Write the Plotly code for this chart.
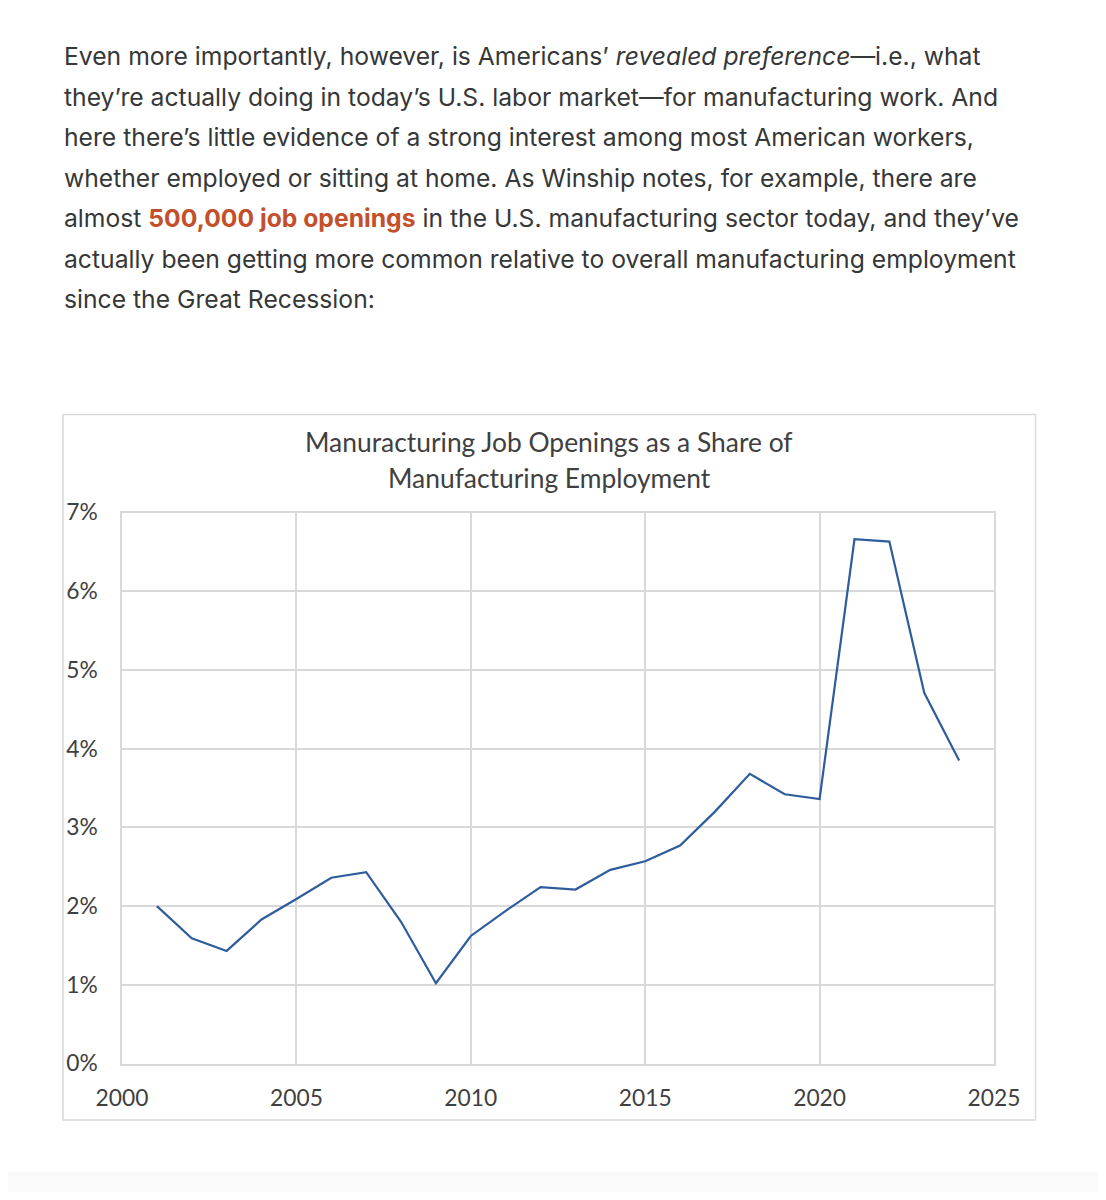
import plotly.graph_objects as go

# ---- data ----
years = [2001, 2002, 2003, 2004, 2005, 2006, 2007, 2008, 2009, 2010, 2011, 2012,
         2013, 2014, 2015, 2016, 2017, 2018, 2019, 2020, 2021, 2022, 2023, 2024]
share_pct = [2.00, 1.59, 1.43, 1.83, 2.09, 2.36, 2.43, 1.80, 1.02, 1.62, 1.94, 2.24,
             2.21, 2.46, 2.57, 2.77, 3.20, 3.68, 3.42, 3.36, 6.66, 6.63, 4.71, 3.85]
share = [v / 100 for v in share_pct]

x_ticks = [2000, 2005, 2010, 2015, 2020, 2025]
y_ticks = [0, 0.01, 0.02, 0.03, 0.04, 0.05, 0.06, 0.07]
y_tick_labels = ["0%", "1%", "2%", "3%", "4%", "5%", "6%", "7%"]

title_lines = ["Manuracturing Job Openings as a Share of", "Manufacturing Employment"]

ORANGE = "#c4502b"
paragraph_lines = [
    "Even more importantly, however, is Americans’ <i>revealed preference</i>—i.e., what",
    "they’re actually doing in today’s U.S. labor market—for manufacturing work. And",
    "here there’s little evidence of a strong interest among most American workers,",
    "whether employed or sitting at home. As Winship notes, for example, there are",
    "almost <b><span style='color:" + ORANGE + "'>500,000 job openings</span></b> in the U.S. manufacturing sector today, and they’ve",
    "actually been getting more common relative to overall manufacturing employment",
    "since the Great Recession:",
]

# page has an 8px body margin; figure fills the rest of the 1106x1200 window
OFF = 8
W, H = 1106 - 2 * OFF, 1200 - 2 * OFF
GRID = "#d9d9d9"
TICK = "#404040"

def px(x):
    return (x - OFF) / W

def py(y):
    return 1 - (y - OFF) / H

fig = go.Figure()
fig.add_trace(go.Scatter(
    x=years, y=share, mode="lines",
    line=dict(color="#2f5d9c", width=2.2),
    hoverinfo="skip", showlegend=False,
))

fig.update_layout(
    template="none",
    width=W, height=H,
    margin=dict(l=0, r=0, t=0, b=0, pad=0),
    paper_bgcolor="white", plot_bgcolor="white",
    font=dict(family="Lato, sans-serif", color=TICK),
    xaxis=dict(
        domain=[px(122), px(994)], range=[2000, 2025],
        tickvals=x_ticks, ticktext=[str(v) for v in x_ticks],
        showgrid=True, gridcolor=GRID, gridwidth=1.5,
        showline=True, linecolor=GRID, linewidth=1.5, mirror=True,
        zeroline=False, ticks="", ticklabelstandoff=13, automargin=False,
        tickfont=dict(family="Lato, sans-serif", size=22.8, color=TICK),
        fixedrange=True,
    ),
    yaxis=dict(
        domain=[py(1063.5), py(512.5)], range=[0, 0.07],
        tickvals=y_ticks, ticktext=y_tick_labels,
        showgrid=True, gridcolor=GRID, gridwidth=1.5,
        showline=True, linecolor=GRID, linewidth=1.5, mirror=True,
        zeroline=False, ticks="", ticklabelstandoff=18, automargin=False,
        tickfont=dict(family="Lato, sans-serif", size=22.8, color=TICK),
        fixedrange=True,
    ),
)

# chart frame
fig.add_shape(type="rect", xref="paper", yref="paper",
              x0=px(63), x1=px(1035.5), y0=py(1120), y1=py(414.5),
              line=dict(color=GRID, width=1.5), fillcolor="rgba(0,0,0,0)", layer="below")
# faint bottom band of the page
fig.add_shape(type="rect", xref="paper", yref="paper",
              x0=0, x1=1, y0=0, y1=py(1172),
              line=dict(width=0), fillcolor="#fafafa", layer="below")

# chart title
for i, t in enumerate(title_lines):
    fig.add_annotation(text=t, xref="paper", yref="paper",
                       x=px(549), y=py(442 + 36 * i), xanchor="center", yanchor="middle",
                       showarrow=False,
                       font=dict(family="Lato, sans-serif", size=26.4, color="#404040"))

# paragraph text
for i, t in enumerate(paragraph_lines):
    fig.add_annotation(text=t, xref="paper", yref="paper",
                       x=px(62), y=py(56.5 + 40.4 * i), xanchor="left", yanchor="middle",
                       showarrow=False, align="left",
                       font=dict(family="Inter, sans-serif", size=24.7, color="#363737"))

fig.write_html("out.html")
